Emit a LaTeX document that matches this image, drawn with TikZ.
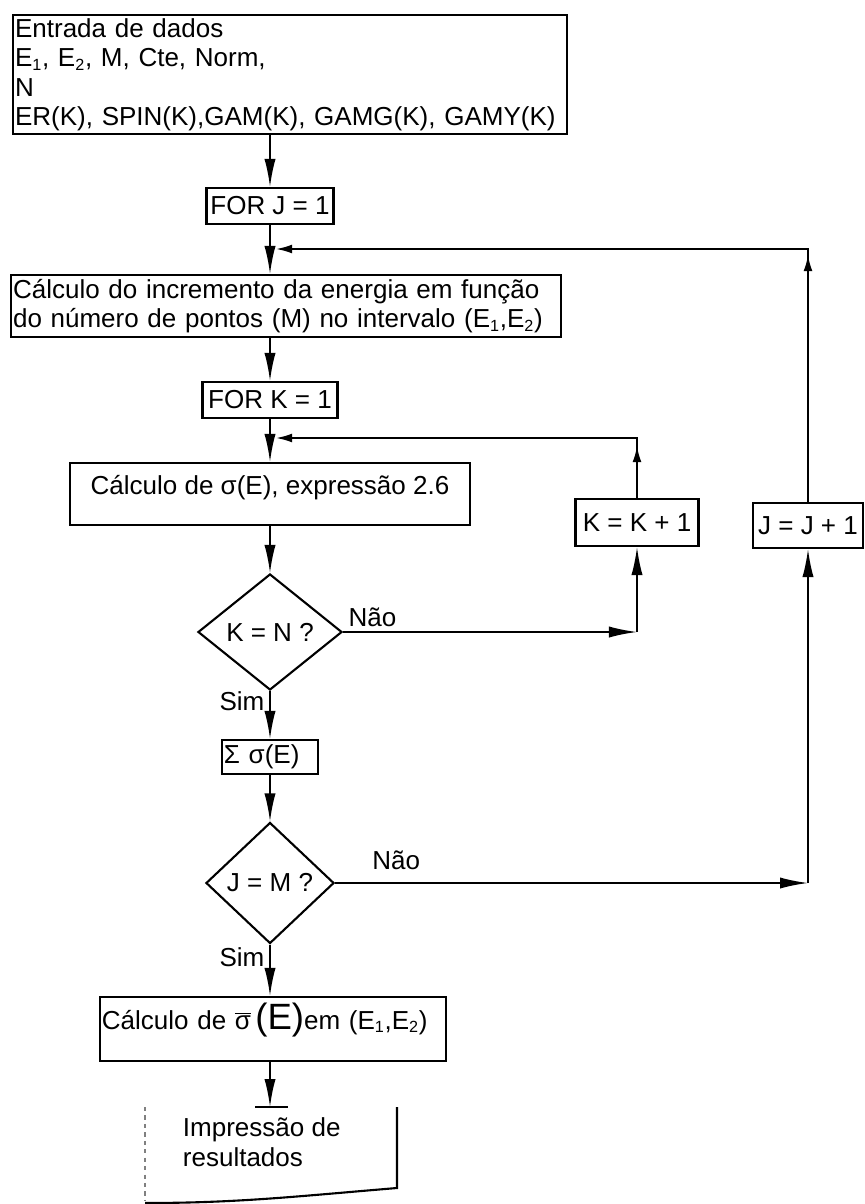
\documentclass[tikz,border=0pt]{standalone}
\usepackage{fontspec}
\setmainfont{Liberation Sans}
\usetikzlibrary{shapes.geometric,arrows.meta}
\newcommand{\ind}[1]{\textsubscript{\fontsize{11.5}{11.5}\selectfont #1}}

\begin{document}
\begin{tikzpicture}[x=0.025cm, y=-0.025cm, line width=1.3pt,
  every node/.style={font=\fontsize{18.5}{21}\selectfont},
  box/.style={draw, line width=1.5pt, inner sep=0.05cm},
  cond/.style={draw, line width=1.5pt, diamond, inner sep=0pt},
  flow/.style={-{Latex[length=0.7cm,width=0.28cm]}},
  back/.style={-{Latex[length=0.4cm,width=0.22cm]}},
  nao/.style={anchor=south west}]
\useasboundingbox (0,0) rectangle (864,1204);

% caixas do fluxo principal
\node[box, anchor=north west, text width=13.75cm, minimum height=2.975cm, align=left] (dados) at (12,14) {Entrada de dados\\E\ind{1}, E\ind{2}, M, Cte, Norm,\\N\\ER(K), SPIN(K),GAM(K), GAMG(K), GAMY(K)};
\node[box, minimum width=3.175cm, minimum height=0.9cm] (forj) at (270,206) {FOR J = 1};
\node[box, anchor=north west, text width=13.65cm, minimum height=1.55cm, align=left] (incr) at (10,274) {Cálculo do incremento da energia em função\\do número de pontos (M) no intervalo (E\ind{1},E\ind{2})};
\node[box, minimum width=3.375cm, minimum height=0.9cm] (fork) at (270,400) {FOR K = 1};
\node[box, minimum width=10cm, text height=0.725cm, text depth=0.725cm, inner ysep=0.05cm] (sig) at (270,494) {Cálculo de σ(E), expressão 2.6};
\node[cond, minimum width=3.6cm, minimum height=2.9cm] (kn) at (270,632) {K = N ?};
\node[box, text width=2.3cm, minimum height=0.85cm, align=left] (soma) at (270,757) {Σ σ(E)};
\node[cond, minimum width=3.2cm, minimum height=3.025cm] (jm) at (270,883) {J = M ?};
\node[box, text width=8.55cm, align=left, text height=0.75cm, text depth=0.75cm, inner ysep=0.05cm] (media) at (273,1029) {Cálculo de $\overline{\mbox{σ}}$\,{\fontsize{26}{26}\selectfont(E)}em (E\ind{1},E\ind{2})};

% incrementos
\node[box, minimum width=3.075cm, minimum height=1.175cm] (kinc) at (637,522.5) {K = K + 1};
\node[box, minimum width=2.75cm, minimum height=1.125cm] (jinc) at (808,525.5) {J = J + 1};

% saida
\node[anchor=north west, align=left, inner sep=0pt] (impr) at (182,1117) {Impressão de\\resultados};
\coordinate (saida) at (270,1107);
\draw[line width=1.5pt] (397,1107) -- (397,1188) .. controls (300,1196) and (240,1203) .. (145,1203);
\draw[line width=0.8pt, gray, dashed] (145,1107) -- (145,1200);
\draw[line width=1.2pt] (255,1107) -- (288,1107);

% setas principais
\draw[flow] (dados.south -| forj.north) -- (forj.north);
\draw[flow] (forj.south) -- (forj.south |- incr.north);
\draw[flow] (incr.south -| fork.north) -- (fork.north);
\draw[flow] (fork.south) -- (fork.south |- sig.north);
\draw[flow] (sig.south -| kn.north) -- (kn.north);
\draw[flow] (kn.south) -- (soma.north) node[pos=0.22, left] {Sim};
\draw[flow] (soma.south) -- (jm.north);
\draw[flow] (jm.south) -- (jm.south |- media.north) node[pos=0.25, left] {Sim};
\draw[flow] (media.south -| saida) -- (saida);

% laco K
\coordinate (kr) at (637,632);
\coordinate (kc) at (637,438);
\coordinate (kin) at (276,438);
\draw[flow] (kn.east) -- (kr) node[pos=0, nao] {Não};
\draw[flow] (kr) -- (kinc.south);
\draw[back] (kinc.north) -- ([yshift=-0.2cm]kc);
\draw[back] (kinc.north) -- (kc) -- (kin);

% laco J
\coordinate (jr) at (808,883);
\coordinate (jc) at (808,249);
\coordinate (jin) at (276,249);
\draw[flow] (jm.east) -- (jr) node[pos=0.067, nao, yshift=0.2cm] {Não};
\draw[flow] (jr) -- (jinc.south);
\draw[back] (jinc.north) -- ([yshift=-0.15cm]jc);
\draw[back] (jinc.north) -- (jc) -- (jin);
\end{tikzpicture}
\end{document}
